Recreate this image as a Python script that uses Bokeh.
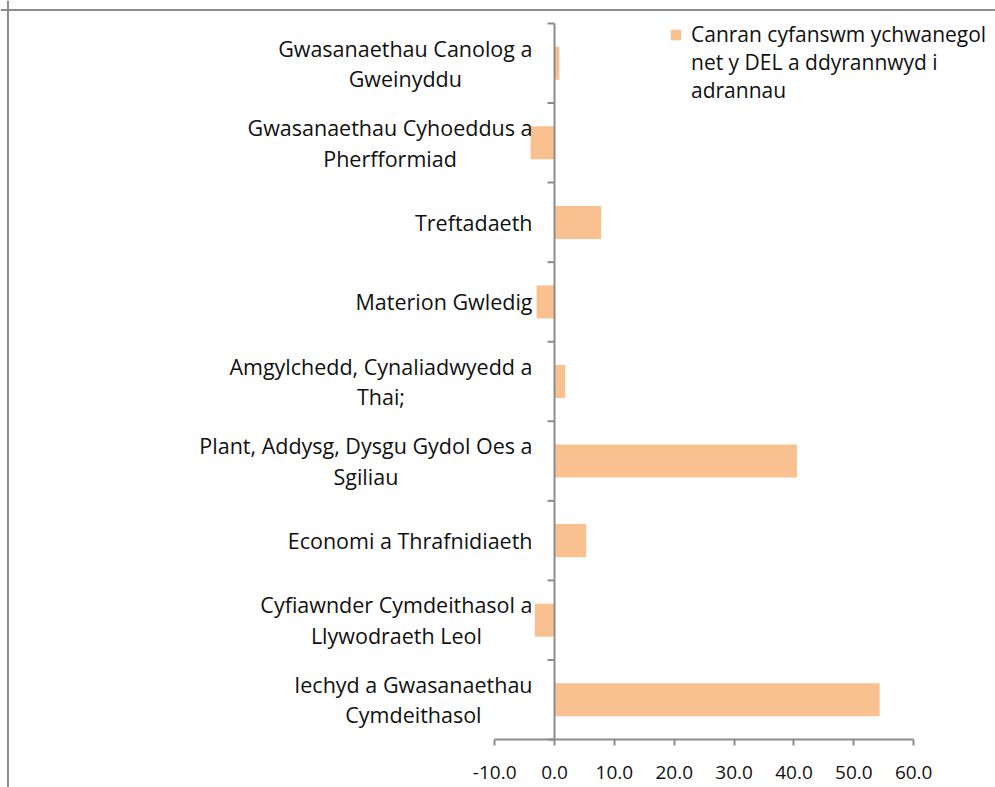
import numpy as np
from bokeh.plotting import figure
from bokeh.models import (Range1d, FixedTicker, NumeralTickFormatter,
                          Legend, LegendItem, ColumnDataSource, Span)
from bokeh.core.properties import value
from bokeh.embed import file_html
from bokeh.resources import INLINE

# ---- data (top to bottom as in the chart) ----
categories = [
    "Gwasanaethau Canolog a Gweinyddu",
    "Gwasanaethau Cyhoeddus a Pherfformiad",
    "Treftadaeth",
    "Materion Gwledig",
    "Amgylchedd, Cynaliadwyedd a Thai;",
    "Plant, Addysg, Dysgu Gydol Oes a Sgiliau",
    "Economi a Thrafnidiaeth",
    "Cyfiawnder Cymdeithasol a Llywodraeth Leol",
    "Iechyd a Gwasanaethau Cymdeithasol",
]
category_labels = [
    "Gwasanaethau Canolog a\nGweinyddu",
    "Gwasanaethau Cyhoeddus a\nPherfformiad",
    "Treftadaeth",
    "Materion Gwledig",
    "Amgylchedd, Cynaliadwyedd a\nThai;",
    "Plant, Addysg, Dysgu Gydol Oes a\nSgiliau",
    "Economi a Thrafnidiaeth",
    "Cyfiawnder Cymdeithasol a\nLlywodraeth Leol",
    "Iechyd a Gwasanaethau\nCymdeithasol",
]
values = [0.8, -4.0, 7.8, -3.0, 1.8, 40.5, 5.3, -3.3, 54.3]
legend_lines = ["Canran cyfanswm ychwanegol", "net y DEL a ddyrannwyd i", "adrannau"]
x_ticks = [-10, 0, 10, 20, 30, 40, 50, 60]

GREY = "#8c8c8c"
BAR = "#f9c18f"
FONT = "Open Sans"
TEXT = "#111111"

n = len(categories)
pos = n - 0.5 - np.arange(n)          # category slots, first category on top

p = figure(
    width=995, height=787,
    x_range=Range1d(-92.55, 73.67),
    y_range=Range1d(-0.603, 9.289),
    output_backend="svg", toolbar_location=None,
    min_border_left=0, min_border_right=0, min_border_top=0, min_border_bottom=0,
)
p.yaxis.visible = False
p.outline_line_color = None
p.xgrid.visible = False
p.ygrid.visible = False

src = ColumnDataSource(dict(cat=categories, pos=pos, val=values, lab=category_labels))
bars = p.hbar(y="pos", left=0, right="val", height=0.415, source=src,
              fill_color=BAR, line_color=None)

# chart border (left and top)
p.add_layout(Span(location=-91.3, dimension="height", line_color=GREY, line_width=2))
p.add_layout(Span(location=n + 0.17, dimension="width", line_color=GREY, line_width=2))

# category axis at x = 0 with ticks between categories
bounds = np.arange(n + 1)
p.segment(x0=[0], x1=[0], y0=[bounds[0]], y1=[bounds[-1]], line_color=GREY, line_width=2)
p.segment(x0=np.full(n + 1, -7 / 5.986), x1=np.zeros(n + 1), y0=bounds, y1=bounds,
          line_color=GREY, line_width=2)

p.text(x=0, y="pos", text="lab", source=src, x_offset=-22,
       anchor=value("center_right"), text_align="center", text_baseline="middle",
       text_font=value(FONT), text_font_size="21.5px", text_color=TEXT,
       text_line_height=1.05)

ax = p.xaxis[0]
ax.fixed_location = 0
ax.bounds = (x_ticks[0], x_ticks[-1])
ax.ticker = FixedTicker(ticks=x_ticks)
ax.formatter = NumeralTickFormatter(format="0.0")
ax.minor_tick_line_color = None
ax.major_tick_in = 0
ax.major_tick_out = 6
ax.axis_line_color = GREY
ax.axis_line_width = 2
ax.major_tick_line_color = GREY
ax.major_tick_line_width = 2
ax.major_label_standoff = 20
ax.major_label_text_font = FONT
ax.major_label_text_font_size = "19px"
ax.major_label_text_color = TEXT

items = [LegendItem(label=legend_lines[0], renderers=[bars])]
items += [LegendItem(label=t, renderers=[]) for t in legend_lines[1:]]
legend = Legend(items=items,
                location=(669, 683), padding=0, margin=0, spacing=0,
                glyph_width=13, glyph_height=13, label_standoff=9,
                label_text_font=FONT, label_text_font_size="21px",
                label_text_color=TEXT,
                border_line_color=None, background_fill_alpha=0)
p.add_layout(legend)

open("out.html", "w").write(file_html(p, INLINE))
